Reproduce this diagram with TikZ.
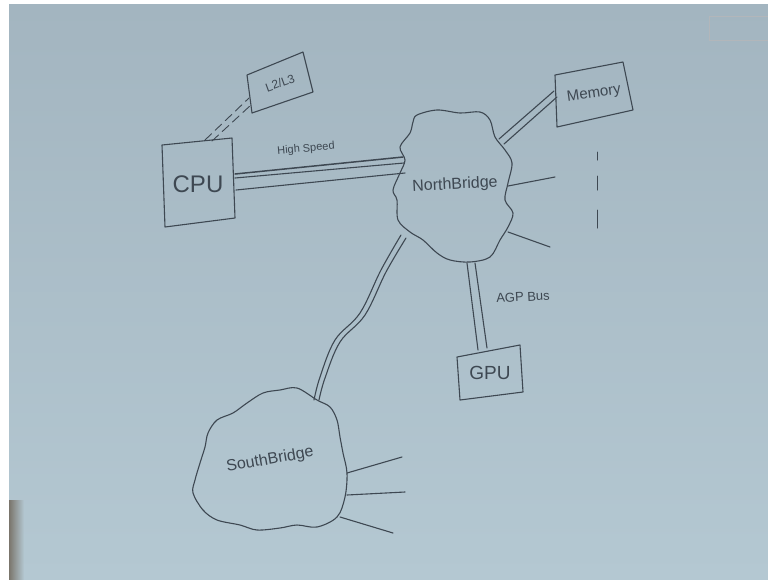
\documentclass[tikz,border=0pt]{standalone}
\usepackage{fontspec}
\setmainfont{Liberation Sans}
\begin{document}
\begin{tikzpicture}[x=1pt,y=-1pt,
  ink/.style={draw=inkc,line width=1.1pt,line cap=round,line join=round},
  bus/.style={draw=inkc,line width=1.1pt,line cap=round},
  lbl/.style={text=inkc,inner sep=0pt,font=\fontsize{#1}{#1}\selectfont},
  box/.style={ink},
]
\definecolor{inkc}{RGB}{62,72,82}
\definecolor{board}{RGB}{180,200,210}
\definecolor{boardtop}{RGB}{163,181,192}
\useasboundingbox (0,0) rectangle (768,579);
% board background
\fill[white] (0,0) rectangle (768,579);
\shade[top color=boardtop,bottom color=board] (9,4) rectangle (768,579);
\shade[left color=black!60!brown,right color=board,opacity=0.55] (9,500) rectangle (24,579);
% faint logo
\draw[inkc!40,line width=0.8pt] (709,16) rectangle (768,40);

% ---------- nodes (coordinates for hand-drawn shapes) ----------
\coordinate (cpuc) at (198,184);
\coordinate (l2c) at (280,83);
\coordinate (memc) at (594,94);
\coordinate (gpuc) at (490,373);
\coordinate (nbc) at (455,185);
\coordinate (sbc) at (270,460);

% CPU box
\draw[box] (162,145) -- (232,138) -- (235,218) -- (165,227) -- cycle;
\node[lbl=24] (cpu) at (cpuc) {CPU};
% L2/L3 box
\draw[box] (247,75) -- (303,52) -- (313,92) -- (252,113) -- cycle;
\node[lbl=12,rotate=20] (l2) at (l2c) {L2/L3};
% Memory box
\draw[box] (555,75) -- (623,62) -- (633,110) -- (557,127) -- cycle;
\node[lbl=15,rotate=8] (mem) at (memc) {Memory};
% GPU box
\draw[box] (457,357) -- (520,345) -- (523,392) -- (460,400) -- cycle;
\node[lbl=19] (gpu) at (gpuc) {GPU};

% NorthBridge cloud
\draw[ink] plot[smooth cycle,tension=0.55] coordinates {
 (417,115) (437,110) (460,113) (480,112) (490,120) (495,137) (505,150)
 (512,163) (508,183) (505,200) (513,213) (508,227) (500,240) (490,257)
 (470,262) (450,260) (437,253) (423,240) (410,232) (398,220) (397,200)
 (393,190) (400,173) (405,160) (400,147) (410,133) (413,122)};
\node[lbl=16,rotate=3] (nb) at (nbc) {NorthBridge};

% SouthBridge cloud
\draw[ink] plot[smooth cycle,tension=0.55] coordinates {
 (280,390) (297,388) (317,400) (330,407) (337,420) (340,437) (343,453)
 (347,473) (345,497) (337,517) (317,527) (297,525) (280,528) (257,530)
 (240,525) (217,520) (203,510) (193,493) (195,480) (200,463) (205,447)
 (208,433) (217,420) (233,413) (247,403) (263,393)};
\node[lbl=16,rotate=10] (sb) at (sbc) {SouthBridge};

% ---------- connectors ----------
% CPU -- L2/L3 dashed
\draw[bus,dashed,dash pattern=on 9pt off 5pt,line width=0.9pt] (205,140) -- (249,98);
\draw[bus,dashed,dash pattern=on 9pt off 5pt,line width=0.9pt] (212,141) -- (252,104);
% High speed bus CPU -- NB
\draw[bus,line width=1.5pt] (235,174) -- (403,157);
\draw[bus] (235,178) -- (404,163);
\draw[bus] (236,190) -- (405,173);
\node[lbl=11,rotate=5] (hs) at (306,149) {High Speed};
% NB -- Memory
\draw[bus] (499,139) -- (554,91);
\draw[bus] (504,144) -- (557,97);
% NB outgoing lines
\coordinate (nbo1) at (555,177);
\coordinate (nbo2) at (550,247);
\draw[bus] (508,186) -- (nbo1);
\draw[bus] (508,232) -- (nbo2);
% vertical dashed continuation
\draw[bus,line width=1pt] (597,152) -- (597,160);
\draw[bus,line width=1pt] (597,176) -- (597,190);
\draw[bus,line width=1pt] (597,210) -- (597,228);
% AGP bus NB -- GPU
\draw[bus] (467,263) -- (478,350);
\draw[bus] (475,263) -- (487,348);
\node[lbl=13,rotate=3] (agp) at (523,297) {AGP Bus};
% NB -- SB
\draw[bus] plot[smooth,tension=0.6] coordinates {(401,235) (381,270) (360,313) (335,340) (320,377) (314,400)};
\draw[bus] plot[smooth,tension=0.6] coordinates {(406,238) (386,272) (365,315) (340,342) (325,378) (319,400)};
% SB outgoing lines
\coordinate (sbo1) at (402,457);
\coordinate (sbo2) at (405,492);
\coordinate (sbo3) at (393,533);
\draw[bus] (347,473) -- (sbo1);
\draw[bus] (347,495) -- (sbo2);
\draw[bus] (340,517) -- (sbo3);
\end{tikzpicture}
\end{document}
